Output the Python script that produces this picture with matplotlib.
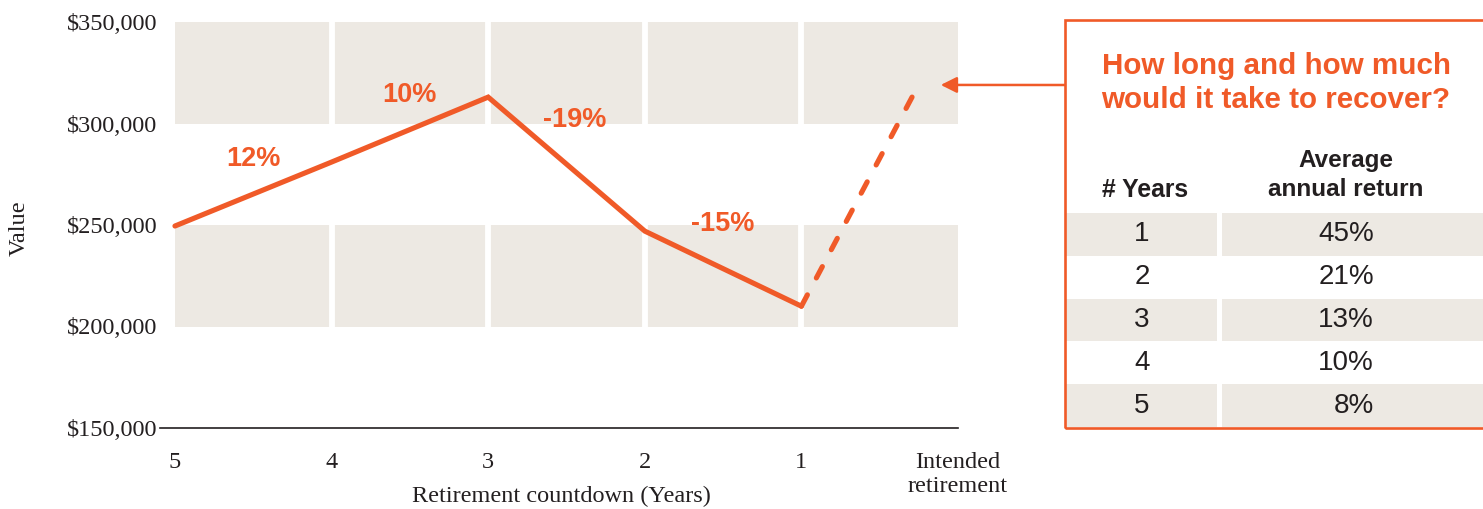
import matplotlib
matplotlib.use("Agg")
import matplotlib.pyplot as plt
from matplotlib.patches import Rectangle

# ---- data ----
countdown = [5, 4, 3, 2, 1]
values = [249500, 281000, 313000, 247000, 210000]
returns = ["12%", "10%", "-19%", "-15%"]
recovery_x = [1, 0.29]
recovery_values = [210000, 313500]
arrow_target = (0.11, 319000)
x_ticks = [5, 4, 3, 2, 1, 0]
x_ticklabels = ["5", "4", "3", "2", "1", "Intended\nretirement"]
y_ticks = [150000, 200000, 250000, 300000, 350000]
table_years = ["1", "2", "3", "4", "5"]
table_returns = ["45%", "21%", "13%", "10%", "8%"]

ORANGE = "#F05A28"
SHADE = "#EDE9E3"
DARK = "#231F20"
SERIF = "Liberation Serif"
SANS = "Liberation Sans"

W, H = 1483, 509
fig = plt.figure(figsize=(W / 100, H / 100), dpi=100)

def fx(x):
    return x / W

def fy(y):
    return 1 - y / H

# axes spanning pixel x 160..958, y 22..428
ax = fig.add_axes([fx(160), fy(428), fx(958) - fx(160), fy(22) - fy(428)])
ax.set_xlim(5.0955, 0.013)
ax.set_ylim(150000, 350000)

# shaded bands with white gaps at each year
for (y0, y1) in [(300000, 350000), (200000, 250000)]:
    ax.add_patch(Rectangle((0, y0), 5, y1 - y0, facecolor=SHADE,
                           edgecolor="none", zorder=0, clip_on=False))
for xv in [4, 3, 2, 1]:
    ax.axvline(xv, color="white", lw=4.2, zorder=1)

ax.plot(countdown, values, color=ORANGE, lw=3.7, solid_joinstyle="miter",
        solid_capstyle="round", zorder=3)
ax.plot(recovery_x, recovery_values, color=ORANGE, lw=3.7, ls=(0, (2.5, 3.72)),
        dash_capstyle="round", zorder=3)

label_offsets = [(0, 25), (0, 25), (6, 32), (0, 32)]
for i, lab in enumerate(returns):
    mx = (countdown[i] + countdown[i + 1]) / 2
    my = (values[i] + values[i + 1]) / 2
    ax.annotate(lab, (mx, my), xytext=label_offsets[i], textcoords="offset points",
                ha="center", va="center", color=ORANGE, fontsize=19.5,
                fontweight="bold", family=SANS)

for s in ["top", "right", "left"]:
    ax.spines[s].set_visible(False)
ax.spines["bottom"].set_color(DARK)
ax.spines["bottom"].set_linewidth(1.2)
ax.set_xticks(x_ticks)
ax.set_xticklabels(x_ticklabels, family=SERIF, fontsize=17.5, color=DARK,
                   linespacing=1.2, va="top")
ax.set_yticks(y_ticks)
ax.set_yticklabels([f"${v:,.0f}" for v in y_ticks], family=SERIF,
                   fontsize=17.5, color=DARK)
ax.tick_params(axis="x", length=0, pad=17)
ax.tick_params(axis="y", length=0, pad=2)
fig.text(fx(561), fy(496), "Retirement countdown (Years)", ha="center",
         va="center", family=SERIF, fontsize=17.5, color=DARK)
fig.text(fx(19), fy(228), "Value", rotation=90, ha="center", va="center",
         family=SERIF, fontsize=17.5, color=DARK)

# arrow from box to the chart
ax.annotate("", xy=arrow_target, xycoords="data",
            xytext=(1065, H - 85), textcoords="figure pixels",
            arrowprops=dict(arrowstyle="-|>", color=ORANGE, lw=1.8,
                            mutation_scale=24, shrinkA=0, shrinkB=0),
            annotation_clip=False)

# ---- table box ----
fig.patches.append(Rectangle((fx(1065), fy(428)), fx(500), fy(20) - fy(428),
                             transform=fig.transFigure, facecolor="none",
                             edgecolor=ORANGE, lw=1.9, zorder=5))
fig.text(fx(1276), fy(83), "How long and how much\nwould it take to recover?",
         ha="center", va="center", color=ORANGE, fontsize=21.3,
         fontweight="bold", family=SANS, linespacing=1.3)
fig.text(fx(1145), fy(190), "# Years", ha="center", va="center", color=DARK,
         fontsize=17.8, fontweight="bold", family=SANS)
fig.text(fx(1346), fy(175), "Average\nannual return", ha="center", va="center",
         color=DARK, fontsize=17.5, fontweight="bold", family=SANS,
         linespacing=1.3)

row_top = 213
row_h = 42.8
for i, (yr, rt) in enumerate(zip(table_years, table_returns)):
    top = row_top + i * row_h
    if i % 2 == 0:
        fig.patches.append(Rectangle((fx(1066), fy(top + row_h)), fx(1217 - 1066),
                                     row_h / H, transform=fig.transFigure,
                                     facecolor=SHADE, edgecolor="none", zorder=1))
        fig.patches.append(Rectangle((fx(1222), fy(top + row_h)), fx(300),
                                     row_h / H, transform=fig.transFigure,
                                     facecolor=SHADE, edgecolor="none", zorder=1))
    cy = top + row_h / 2
    fig.text(fx(1142), fy(cy), yr, ha="center", va="center", color=DARK,
             fontsize=20, family=SANS)
    fig.text(fx(1374), fy(cy), rt, ha="right", va="center", color=DARK,
             fontsize=20, family=SANS)

fig.savefig("out.png", dpi=100)
